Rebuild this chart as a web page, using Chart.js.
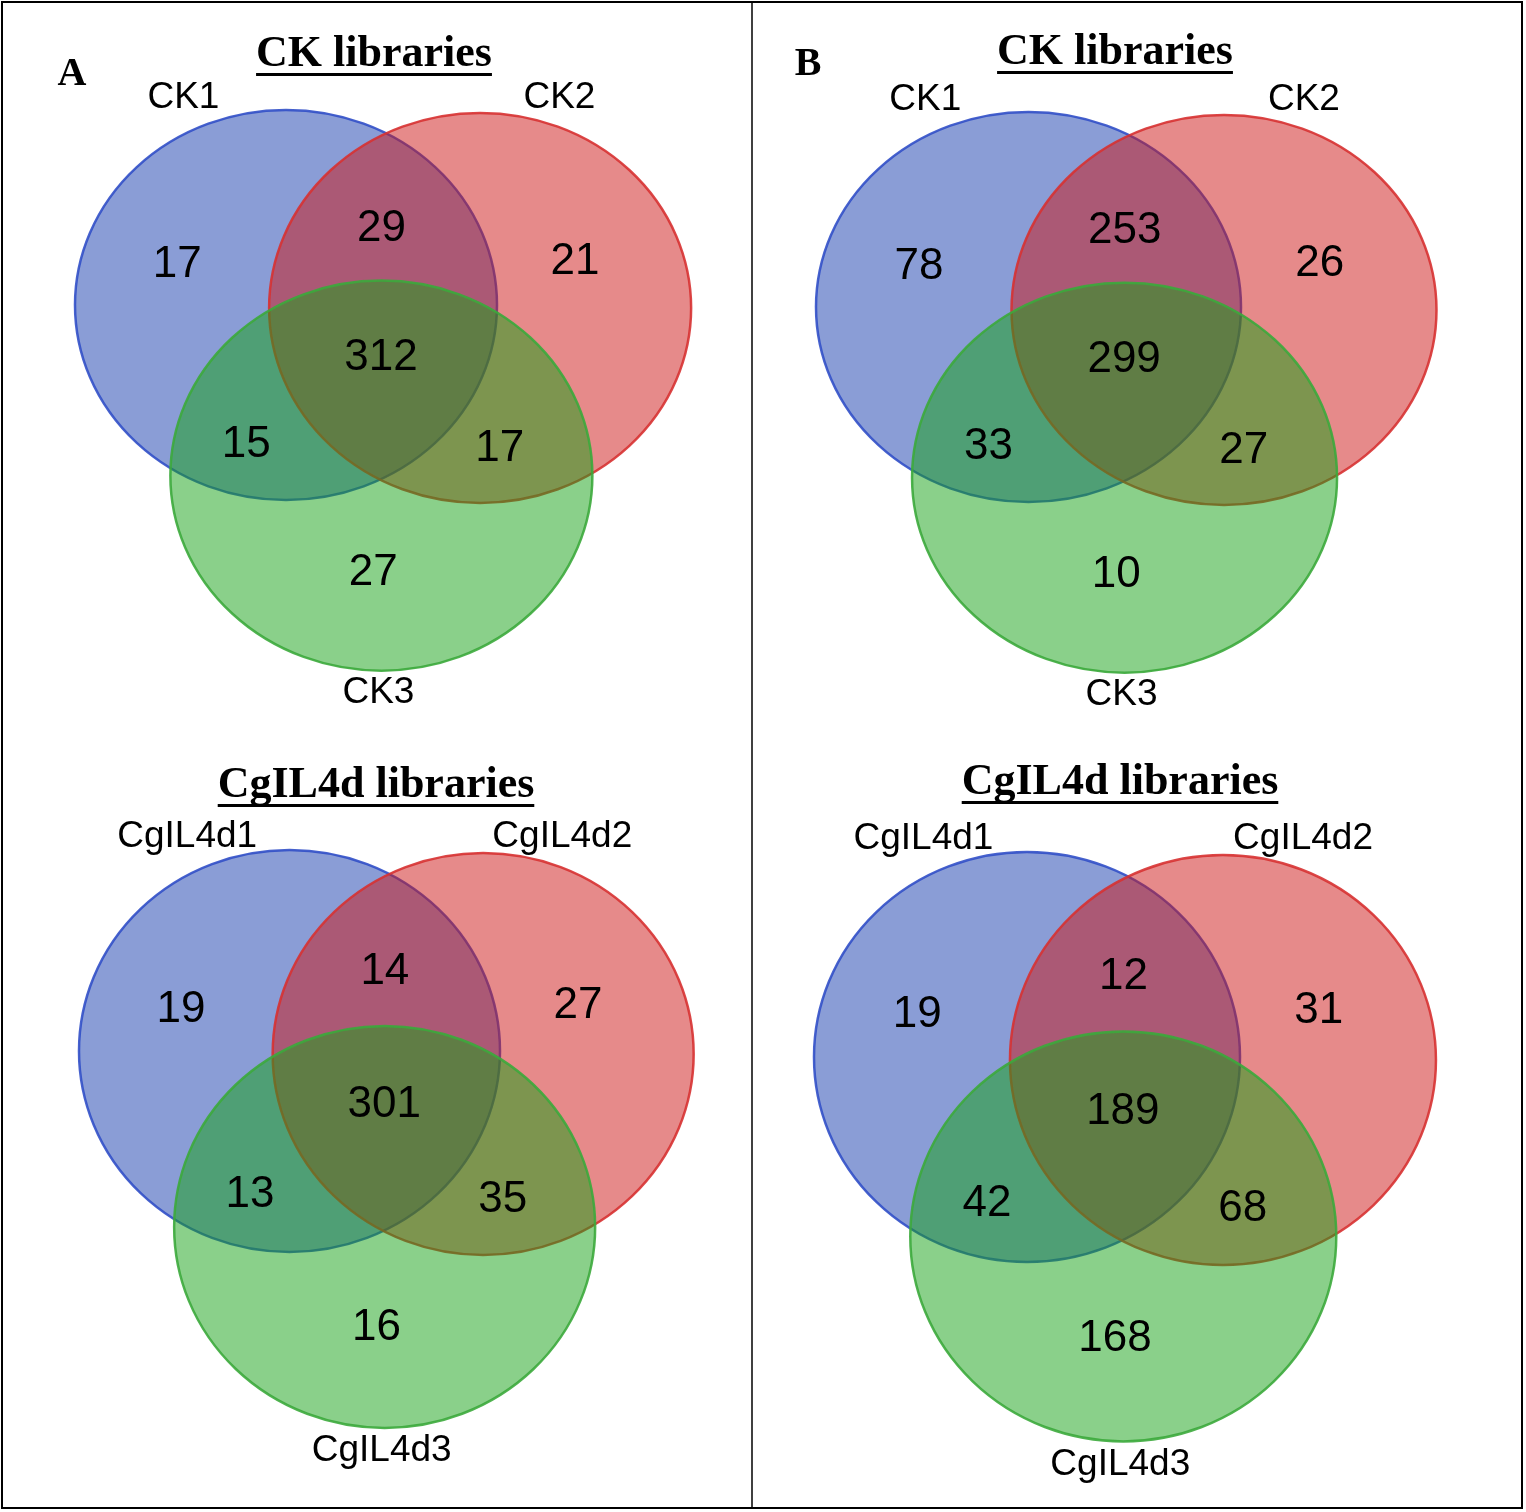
<!DOCTYPE html>
<html>
<head>
<meta charset="utf-8">
<script src="https://cdn.jsdelivr.net/npm/chart.js@4.4.1/dist/chart.umd.min.js"></script>
<style>
  html, body { margin: 0; padding: 0; background: #fff; }
  canvas { display: block; }
</style>
</head>
<body>
<canvas id="venn" width="1526" height="1512"></canvas>
<script>
// data
const panelLetters = ['A', 'B'];
const titles = ['CK libraries', 'CgIL4d libraries'];
const setNamesCK = ['CK1', 'CK2', 'CK3'];
const setNamesCgIL = ['CgIL4d1', 'CgIL4d2', 'CgIL4d3'];
// region order: 1 only, 1&2, 2 only, 1&2&3, 1&3, 2&3, 3 only
const regions = ['1', '12', '2', '123', '13', '23', '3'];
const countsA_CK = [17, 29, 21, 312, 15, 17, 27];
const countsA_CgIL = [19, 14, 27, 301, 13, 35, 16];
const countsB_CK = [78, 253, 26, 299, 33, 27, 10];
const countsB_CgIL = [19, 12, 31, 189, 42, 68, 168];

// layout (in units of the blue ellipse radii, from the blue centre)
const circleOffsets = [[0, 0], [0.92, 0.015], [0.452, 0.875]];
const regionAnchors = {
    '1': [-0.515, -0.205], '12': [0.453, -0.392], '2': [1.37, -0.223],
    '123': [0.45, 0.27], '13': [-0.188, 0.718], '23': [1.013, 0.74], '3': [0.413, 1.376]
};
const nameAnchors = [[-0.486, -1.065], [1.296, -1.065], [0.438, 1.99]];
const fills = ['rgba(21,59,173,0.5)', 'rgba(205,21,21,0.5)', 'rgba(21,161,21,0.5)'];
const strokes = ['rgba(50,80,200,0.9)', 'rgba(215,50,50,0.9)', 'rgba(60,170,60,0.9)'];

const diagrams = [
    { title: titles[0], sets: setNamesCK, counts: countsA_CK, cx: 286, cy: 305, rx: 211, ry: 195, tx: 374, ty: 52 },
    { title: titles[1], sets: setNamesCgIL, counts: countsA_CgIL, cx: 289.5, cy: 1051, rx: 210.5, ry: 201, tx: 376, ty: 783 },
    { title: titles[0], sets: setNamesCK, counts: countsB_CK, cx: 1028.5, cy: 307, rx: 212.5, ry: 195, tx: 1115, ty: 50 },
    { title: titles[1], sets: setNamesCgIL, counts: countsB_CgIL, cx: 1027, cy: 1057, rx: 213, ry: 205, tx: 1120, ty: 780 }
];
const letterPos = [[72, 75], [808, 65]];

const datasets = diagrams.map(d => ({
    label: d.title,
    data: regions.map((r, i) => ({
        x: d.cx + regionAnchors[r][0] * d.rx,
        y: d.cy + regionAnchors[r][1] * d.ry,
        v: d.counts[i]
    })),
    pointRadius: 0,
    pointHoverRadius: 0
}));

const vennPlugin = {
    id: 'venn',
    beforeDatasetsDraw(chart) {
        const ctx = chart.ctx;
        const xs = chart.scales.x, ys = chart.scales.y;
        ctx.save();
        // frame
        ctx.strokeStyle = '#000';
        ctx.lineWidth = 2;
        ctx.strokeRect(xs.getPixelForValue(2), ys.getPixelForValue(2), xs.getPixelForValue(1522) - xs.getPixelForValue(2), ys.getPixelForValue(1508) - ys.getPixelForValue(2));
        ctx.lineWidth = 1.5;
        ctx.beginPath();
        ctx.moveTo(xs.getPixelForValue(752), ys.getPixelForValue(2));
        ctx.lineTo(xs.getPixelForValue(752), ys.getPixelForValue(1508));
        ctx.stroke();

        diagrams.forEach(d => {
            circleOffsets.forEach((o, k) => {
                const cx = d.cx + o[0] * d.rx, cy = d.cy + o[1] * d.ry;
                const px = xs.getPixelForValue(cx), py = ys.getPixelForValue(cy);
                const prx = Math.abs(xs.getPixelForValue(cx + d.rx) - px);
                const pry = Math.abs(ys.getPixelForValue(cy + d.ry) - py);
                ctx.beginPath();
                ctx.ellipse(px, py, prx, pry, 0, 0, Math.PI * 2);
                ctx.fillStyle = fills[k];
                ctx.fill();
                ctx.strokeStyle = strokes[k];
                ctx.lineWidth = 2.5;
                ctx.stroke();
            });
        });
        ctx.restore();
    },
    afterDatasetsDraw(chart) {
        const ctx = chart.ctx;
        const xs = chart.scales.x, ys = chart.scales.y;
        ctx.save();
        ctx.fillStyle = '#000';
        ctx.textAlign = 'center';
        ctx.textBaseline = 'middle';

        // region counts
        ctx.font = '44px "Liberation Sans", Arial, sans-serif';
        chart.data.datasets.forEach(ds => {
            ds.data.forEach(p => {
                ctx.fillText(String(p.v), xs.getPixelForValue(p.x), ys.getPixelForValue(p.y));
            });
        });

        diagrams.forEach(d => {
            // set names
            ctx.font = '37px "Liberation Sans", Arial, sans-serif';
            d.sets.forEach((s, k) => {
                const a = nameAnchors[k];
                ctx.fillText(s, xs.getPixelForValue(d.cx + a[0] * d.rx), ys.getPixelForValue(d.cy + a[1] * d.ry));
            });
            // title with underline
            ctx.font = 'bold 44px "Liberation Serif", "Times New Roman", serif';
            const tx = xs.getPixelForValue(d.tx), ty = ys.getPixelForValue(d.ty + 3);
            ctx.fillText(d.title, tx, ty);
            const w = ctx.measureText(d.title).width;
            ctx.fillRect(tx - w / 2, ty + 18, w, 3);
        });

        // panel letters
        ctx.font = 'bold 40px "Liberation Serif", "Times New Roman", serif';
        panelLetters.forEach((l, i) => {
            ctx.fillText(l, xs.getPixelForValue(letterPos[i][0]), ys.getPixelForValue(letterPos[i][1]));
        });
        ctx.restore();
    }
};

const ctx = document.getElementById('venn').getContext('2d');
const chart = new Chart(ctx, {
    type: 'scatter',
    data: { datasets: datasets },
    options: {
        responsive: false,
        animation: false,
        events: [],
        layout: { padding: 0 },
        plugins: {
            legend: { display: false },
            tooltip: { enabled: false }
        },
        scales: {
            x: { type: 'linear', min: 0, max: 1526, display: false },
            y: { type: 'linear', min: 0, max: 1512, reverse: true, display: false }
        }
    },
    plugins: [vennPlugin]
});
</script>
</body>
</html>
